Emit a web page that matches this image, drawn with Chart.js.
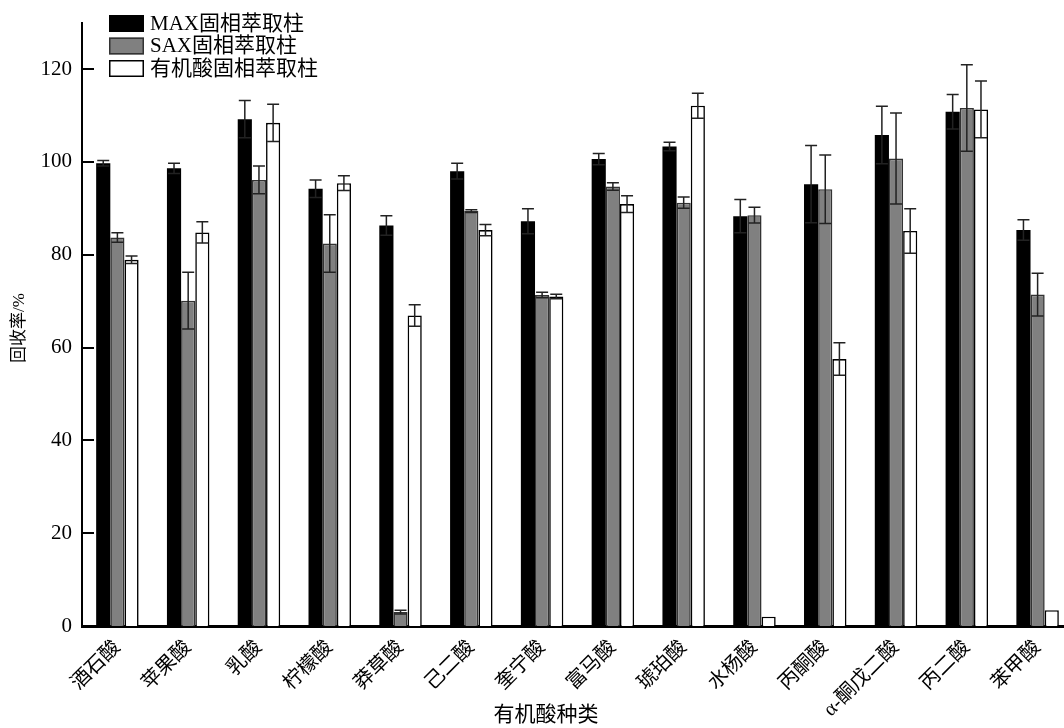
<!DOCTYPE html>
<html>
<head>
<meta charset="utf-8">
<script src="https://cdn.jsdelivr.net/npm/chart.js@4"></script>
<style>
html,body{margin:0;padding:0;background:#fff;overflow:hidden}
#wrap{width:1064px;height:728px;overflow:hidden;position:relative}
canvas{display:block}
</style>
</head>
<body>
<div id="wrap"><canvas id="c" width="1080" height="728"></canvas></div>
<script>
// ---- data ----
const categories = ['酒石酸','苹果酸','乳酸','柠檬酸','莽草酸','己二酸','奎宁酸','富马酸','琥珀酸','水杨酸','丙酮酸','α-酮戊二酸','丙二酸','苯甲酸'];
const seriesLabels = ['MAX固相萃取柱','SAX固相萃取柱','有机酸固相萃取柱'];
const maxValues = [99.7, 98.6, 109.2, 94.2, 86.3, 98.0, 87.2, 100.6, 103.3, 88.3, 95.2, 105.8, 110.8, 85.3];
const maxErrors = [0.6, 1.1, 4.0, 1.9, 2.1, 1.7, 2.7, 1.2, 0.9, 3.6, 8.3, 6.2, 3.7, 2.2];
const saxValues = [83.7, 70.1, 96.1, 82.4, 3.0, 89.4, 71.3, 94.7, 91.2, 88.5, 94.1, 100.7, 111.6, 71.4];
const saxErrors = [1.0, 6.1, 3.0, 6.2, 0.4, 0.3, 0.6, 0.8, 1.2, 1.7, 7.4, 9.8, 9.3, 4.6];
const organicValues = [78.9, 84.8, 108.4, 95.4, 66.9, 85.3, 71.0, 90.9, 112.1, 2.0, 57.5, 85.1, 111.3, 3.4];
const organicErrors = [0.8, 2.3, 4.0, 1.6, 2.3, 1.2, 0.5, 1.8, 2.7, 0, 3.5, 4.8, 6.1, 0];
const yTickValues = [0, 20, 40, 60, 80, 100, 120];
const xTitle = '有机酸种类';
const yTitle = '回收率/%';

const FONT = "'Liberation Serif','Times New Roman','Noto Sans CJK SC',serif";
const fills = ['#000000', '#808080', '#ffffff'];
const borders = ['#000000', '#333333', '#000000'];

const errorBars = {
  id: 'errorBars',
  afterDatasetsDraw(chart) {
    const ctx = chart.ctx, ys = chart.scales.y;
    chart.data.datasets.forEach((ds, di) => {
      const meta = chart.getDatasetMeta(di);
      meta.data.forEach((bar, i) => {
        const e = ds.errors[i];
        if (!e) return;
        const v = ds.data[i];
        const yT = ys.getPixelForValue(v + e), yB = ys.getPixelForValue(v - e);
        const x = bar.x, hw = 6;
        ctx.save();
        ctx.strokeStyle = '#222';
        ctx.lineWidth = 1.5;
        ctx.beginPath();
        ctx.moveTo(x, yT); ctx.lineTo(x, yB);
        ctx.moveTo(x - hw, yT); ctx.lineTo(x + hw, yT);
        ctx.moveTo(x - hw, yB); ctx.lineTo(x + hw, yB);
        ctx.stroke();
        ctx.restore();
      });
    });
  }
};

const decor = {
  id: 'decor',
  afterDraw(chart) {
    const ctx = chart.ctx, ys = chart.scales.y, area = chart.chartArea;
    ctx.save();
    // inward y ticks
    ctx.strokeStyle = '#000';
    ctx.lineWidth = 2;
    yTickValues.forEach(v => {
      const p = Math.round(ys.getPixelForValue(v));
      ctx.beginPath();
      ctx.moveTo(area.left, p);
      ctx.lineTo(area.left + 12, p);
      ctx.stroke();
    });
    // legend
    ctx.font = '21px ' + FONT;
    ctx.textBaseline = 'middle';
    ctx.textAlign = 'left';
    chart.data.datasets.forEach((ds, i) => {
      const top = 15 + i * 22.5;
      ctx.fillStyle = ds.backgroundColor;
      ctx.fillRect(109, top, 35, 17);
      ctx.lineWidth = 1.5;
      ctx.strokeStyle = ds.borderColor;
      ctx.strokeRect(109.75, top + 0.75, 33.5, 15.5);
      ctx.fillStyle = '#000';
      ctx.fillText(ds.label, 150, top + 9);
    });
    // axis titles
    ctx.font = '21px ' + FONT;
    ctx.textAlign = 'center';
    ctx.fillText(xTitle, 546, 715);
    ctx.translate(20, 328);
    ctx.rotate(-Math.PI / 2);
    ctx.font = '17px ' + FONT;
    ctx.fillText(yTitle, 0, 0);
    ctx.restore();
  }
};

const valueSets = [maxValues, saxValues, organicValues];
const errorSets = [maxErrors, saxErrors, organicErrors];

new Chart(document.getElementById('c'), {
  type: 'bar',
  data: {
    labels: categories,
    datasets: seriesLabels.map((lab, i) => ({
      label: lab,
      data: valueSets[i],
      errors: errorSets[i],
      backgroundColor: fills[i],
      borderColor: borders[i],
      borderWidth: i === 0 ? 0 : 1.6,
      barPercentage: 1.0,
      categoryPercentage: 0.6
    }))
  },
  options: {
    responsive: false,
    devicePixelRatio: 1,
    animation: false,
    layout: { padding: { top: 15, right: 7, left: 0, bottom: 0 } },
    plugins: { legend: { display: false }, tooltip: { enabled: false } },
    scales: {
      x: {
        offset: true,
        grid: { display: false, drawTicks: false },
        border: { display: true, color: '#000', width: 3 },
        ticks: { autoSkip: false, maxRotation: 45, minRotation: 45, padding: 10, color: '#000', font: { family: FONT, size: 20 } },
        afterFit: s => { s.height = 102; }
      },
      y: {
        min: 0,
        max: 130,
        afterBuildTicks: s => { s.ticks = yTickValues.map(v => ({ value: v })); },
        grid: { display: false, drawTicks: false },
        border: { display: true, color: '#000', width: 2 },
        ticks: { padding: 10, color: '#000', font: { family: FONT, size: 21 } },
        afterFit: s => { s.width = 82; }
      }
    }
  },
  plugins: [errorBars, decor]
});
</script>
</body>
</html>
